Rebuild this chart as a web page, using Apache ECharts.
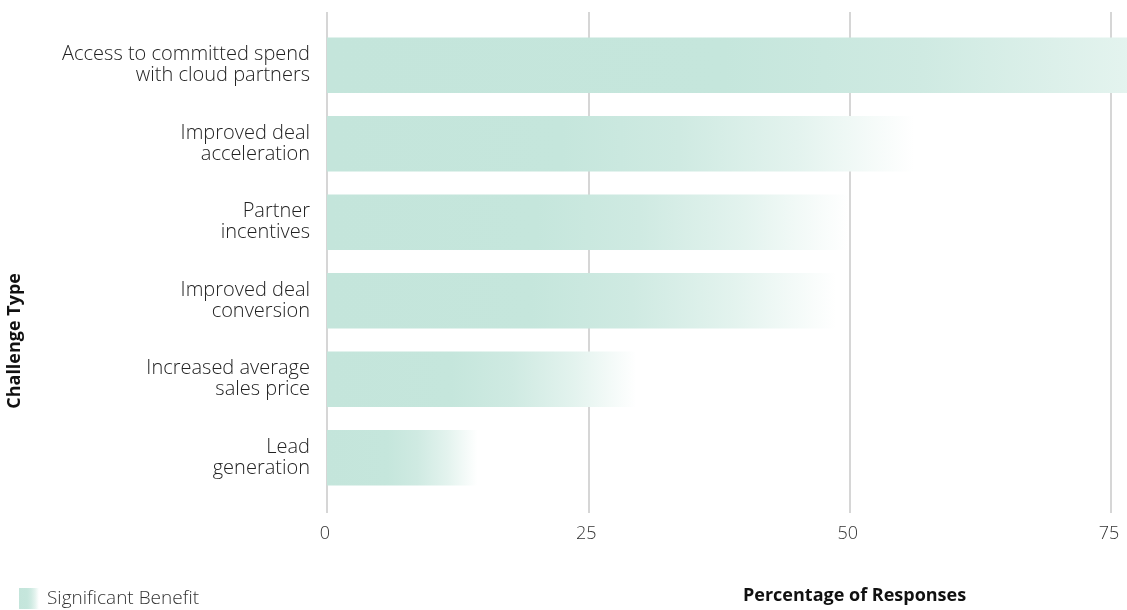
<!DOCTYPE html>
<html>
<head>
<meta charset="utf-8">
<style>
  html, body { margin: 0; padding: 0; background: #ffffff; }
  #chart { width: 1127px; height: 610px; }
</style>
<script src="https://cdn.jsdelivr.net/npm/echarts@6/dist/echarts.min.js"></script>
</head>
<body>
<div id="chart"></div>
<script>
// Benefit categories, top to bottom
const categories = [
  'Access to committed spend\nwith cloud partners',
  'Improved deal\nacceleration',
  'Partner\nincentives',
  'Improved deal\nconversion',
  'Increased average\nsales price',
  'Lead\ngeneration'
];
// Share of respondents reporting a significant benefit (%)
const significantBenefit = [95, 56.2, 49.9, 48.7, 29.6, 14.4];
const xTicks = [0, 25, 50, 75, 100];

const seriesName = 'Significant Benefit';
const xAxisTitle = 'Percentage of Responses';
const yAxisTitle = 'Challenge Type';

const labelFont = '"Open Sans", "Noto Sans", sans-serif';

// mint fill that eases out to white towards the end of each bar
const barFill = new echarts.graphic.LinearGradient(0, 0, 1, 0, [
  { offset: 0, color: '#c4e5db' },
  { offset: 0.4, color: '#c5e6dc' },
  { offset: 0.6, color: '#cfeae2' },
  { offset: 0.8, color: '#e3f3ee' },
  { offset: 1, color: '#ffffff' }
]);

const chart = echarts.init(document.getElementById('chart'), null, { renderer: 'canvas' });

const xMin = xTicks[0];
const xMax = xTicks[xTicks.length - 1];
const xStep = xTicks[1] - xTicks[0];
// plot width: the 0..75 span covers 784px, the plot runs on past the right edge
const plotWidth = 784 / 75 * xMax;

chart.setOption({
  animation: false,
  backgroundColor: '#ffffff',
  grid: [
    // frame for the value axis and its gridlines
    { left: 327, width: plotWidth, top: 12, bottom: 97, outerBoundsMode: 'none', containLabel: false },
    // band for the bars
    { left: 327, width: plotWidth, top: 26, bottom: 113, outerBoundsMode: 'none', containLabel: false }
  ],
  legend: {
    data: [seriesName],
    left: 14,
    top: 583,
    itemWidth: 20,
    itemHeight: 21,
    itemGap: 10,
    icon: 'rect',
    textStyle: { fontFamily: labelFont, fontSize: 19, fontWeight: 300, color: '#333333', padding: [0, 0, 0, 3] }
  },
  xAxis: [
    {
      gridIndex: 0, type: 'value', min: xMin, max: xMax, interval: xStep,
      axisLine: { show: false }, axisTick: { show: false },
      splitLine: { show: true, lineStyle: { color: '#c8c8c8', width: 1.5 } },
      axisLabel: { margin: 12, fontFamily: labelFont, fontSize: 18, fontWeight: 300, color: '#333333', padding: [0, 4, 0, 0] }
    },
    {
      gridIndex: 1, type: 'value', min: xMin, max: xMax, interval: xStep,
      show: false, splitLine: { show: false }
    }
  ],
  yAxis: [
    {
      gridIndex: 0, type: 'value', show: false, splitLine: { show: false }
    },
    {
      gridIndex: 1, type: 'category', data: categories, inverse: true,
      axisLine: { show: false }, axisTick: { show: false },
      axisLabel: {
        margin: 17, fontFamily: labelFont, fontSize: 20, fontWeight: 300,
        color: '#222222', lineHeight: 21, align: 'right', padding: [0, 0, 3, 0]
      }
    }
  ],
  graphic: [
    {
      type: 'text', left: 6, top: 273, rotation: Math.PI / 2,
      style: { text: yAxisTitle, font: 'bold 18px ' + labelFont, fill: '#111111' }
    },
    {
      type: 'text', left: 743, top: 587,
      style: { text: xAxisTitle, font: 'bold 18px ' + labelFont, fill: '#111111' }
    }
  ],
  series: [
    {
      name: seriesName,
      type: 'bar',
      xAxisIndex: 1,
      yAxisIndex: 1,
      data: significantBenefit,
      barCategoryGap: '29%',
      itemStyle: { color: barFill },
      silent: true
    }
  ]
});
</script>
</body>
</html>
